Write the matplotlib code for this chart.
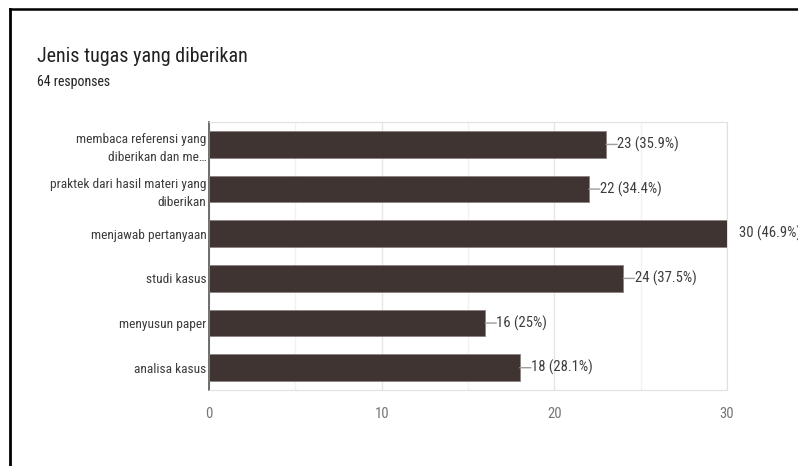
import matplotlib.pyplot as plt
from matplotlib import font_manager
from matplotlib.lines import Line2D

names = {f.name for f in font_manager.fontManager.ttflist}
family = [n for n in ["Roboto Condensed", "Archivo Narrow", "PT Sans Narrow", "Roboto"] if n in names][:1]
plt.rcParams["font.family"] = family + ["DejaVu Sans"]

# data
categories = [
    "membaca referensi yang\ndiberikan dan me…",
    "praktek dari hasil materi yang\ndiberikan",
    "menjawab pertanyaan",
    "studi kasus",
    "menyusun paper",
    "analisa kasus",
]
counts = [23, 22, 30, 24, 16, 18]
percents = ["35.9%", "34.4%", "46.9%", "37.5%", "25%", "28.1%"]
x_ticks = [0, 10, 20, 30]

bar_color = "#3f3432"

fig = plt.figure(figsize=(7.98, 4.66), dpi=100)
ax = fig.add_axes([0.262, 0.163, 0.649, 0.575])

ypos = list(range(len(categories)))
ax.barh(ypos, counts, height=0.6, color=bar_color, edgecolor="#8a8080", linewidth=0.6, zorder=3)
ax.set_ylim(len(categories) - 0.5, -0.5)
ax.set_xlim(0, 30)

# grid: major + fainter minor lines
ax.set_xticks(x_ticks)
ax.set_xticks([5, 15, 25], minor=True)
ax.grid(axis="x", which="major", color="#e6e6e6", linewidth=1, zorder=0)
ax.grid(axis="x", which="minor", color="#f2f2f2", linewidth=1, zorder=0)
ax.tick_params(axis="x", which="both", length=0, pad=12, labelsize=10.5, labelcolor="#757575")
ax.tick_params(axis="y", length=0, pad=2, labelsize=9.6, labelcolor="#3c3c3c")
ax.set_yticks(ypos)
ax.set_yticklabels(categories, linespacing=1.5)

for side in ["top", "right", "bottom"]:
    ax.spines[side].set_color("#e0e0e0")
ax.spines["left"].set_color("#555555")
ax.spines["left"].set_linewidth(1.2)

# value labels with small leader line
for y, c, p in zip(ypos, counts, percents):
    if c < 30:
        ax.annotate("", xy=(c, y), xytext=(8, 0), textcoords="offset points",
                    arrowprops=dict(arrowstyle="-", color="#9e9e9e", lw=1, shrinkA=0, shrinkB=0))
        ax.annotate(f"{c} ({p})", xy=(c, y), xytext=(8, 0), textcoords="offset points",
                    va="center", ha="left", fontsize=10.5, color="#3c3c3c")
    else:
        ax.annotate(f"{c} ({p})", xy=(c, y), xytext=(9, 0), textcoords="offset points",
                    va="center", ha="left", fontsize=10.5, color="#3c3c3c")

fig.text(0.046, 0.868, "Jenis tugas yang diberikan", fontsize=14.4, color="#212121", va="baseline")
fig.text(0.046, 0.815, "64 responses", fontsize=10, color="#212121", va="baseline")

# screenshot border on left and top
fig.add_artist(Line2D([0.013, 0.013], [0.0, 0.981], color="black", linewidth=2.0, transform=fig.transFigure))
fig.add_artist(Line2D([0.013, 1.0], [0.981, 0.981], color="black", linewidth=1.8, transform=fig.transFigure))

fig.savefig("out.png", dpi=100)
